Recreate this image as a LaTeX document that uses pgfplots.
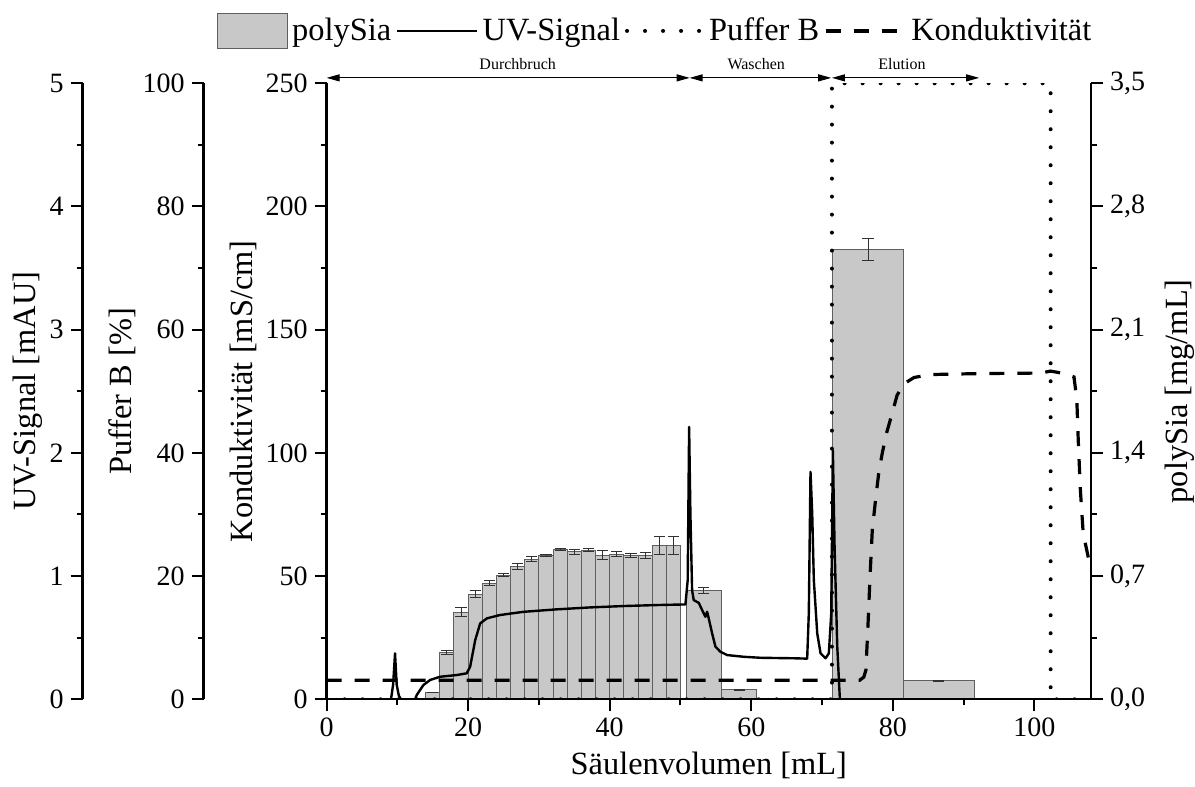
\documentclass[border=0pt]{standalone}
\usepackage{pgfplots}
\pgfplotsset{compat=1.18}
\usepackage{fontspec}
\setmainfont{Liberation Serif}
\usetikzlibrary{arrows.meta}

\definecolor{barfill}{RGB}{200,200,200}
\definecolor{baredge}{RGB}{95,95,95}
\definecolor{errc}{RGB}{50,50,50}

\newcommand{\ticksize}{\fontsize{14}{16}\selectfont}
\newcommand{\labsize}{\fontsize{16.2}{18}\selectfont}
\newcommand{\annsize}{\fontsize{8}{9}\selectfont}

\pgfplotsset{
  base/.style={
    anchor=south west,
    scale only axis, width=382.2pt, height=308pt,
    xmin=0, xmax=108,
    tick align=outside,
    major tick length=6pt, minor tick length=3pt,
    every tick/.style={black, line width=1pt},
    axis line style={line width=1.1pt},
    tick label style={font=\ticksize},
    /pgf/number format/assume math mode=true,
    every axis y label/.style={rotate=90, anchor=center, font=\labsize},
    every axis x label/.style={anchor=center, font=\labsize},
  },
  patchlegend/.style={legend image code/.code={\draw[##1] (0pt,-8.75pt) rectangle (35pt,8.75pt);}},
  linelegend/.style={legend image code/.code={\draw[##1] (0pt,0pt) -- (40pt,0pt);}},
  dotlegend/.style={legend image code/.code={\draw[##1] (2pt,0pt) -- (40pt,0pt);}},
  barerr/.style={error bars/.cd, y dir=both, y explicit,
    error bar style={errc, line width=0.5pt},
    error mark options={errc, line width=0.5pt, mark size=2.8pt, rotate=90}},
}

\begin{document}
\begin{tikzpicture}
\useasboundingbox (-163.3pt,-43.85pt) rectangle (434.2pt,349.65pt);

% ---------- polySia (right axis, bars) ----------
\begin{axis}[base, at={(0pt,0pt)},
  ymin=0, ymax=3.5, hide x axis, axis y line*=right,
  ytick={0,0.7,1.4,2.1,2.8,3.5}, minor y tick num=1,
  yticklabel style={/pgf/number format/.cd, fixed, fixed zerofill, precision=1, use comma},
  ylabel={polySia [mg/mL]},
  ylabel style={at={(axis description cs:1.1164,0.5)}},
]
\addplot[ybar, bar shift=0pt, bar width=2, fill=barfill, draw=baredge, line width=0.5pt, barerr]
coordinates {
(15,0.041) +- (0,0.0)
(17,0.267) +- (0,0.011)
(19,0.494) +- (0,0.025)
(21,0.598) +- (0,0.021)
(23,0.660) +- (0,0.015)
(25,0.706) +- (0,0.011)
(27,0.753) +- (0,0.017)
(29,0.795) +- (0,0.014)
(31,0.818) +- (0,0.005)
(33,0.850) +- (0,0.005)
(35,0.838) +- (0,0.013)
(37,0.848) +- (0,0.009)
(39,0.819) +- (0,0.025)
(41,0.825) +- (0,0.014)
(43,0.816) +- (0,0.013)
(45,0.819) +- (0,0.017)
(47,0.874) +- (0,0.052)
(49,0.874) +- (0,0.052)
};
\addplot[ybar, bar shift=0pt, bar width=5, fill=barfill, draw=baredge, line width=0.5pt, barerr]
coordinates {
(53.3,0.617) +- (0,0.017)
(58.3,0.053) +- (0,0.003)
};
\addplot[ybar, bar shift=0pt, bar width=10, fill=barfill, draw=baredge, line width=0.5pt, barerr]
coordinates {
(76.5,2.555) +- (0,0.064)
(86.5,0.106) +- (0,0.003)
};
\end{axis}

% ---------- Puffer B data ----------
\begin{axis}[base, at={(0pt,0pt)}, hide axis, ymin=0, ymax=100]
\addplot[black, line width=2pt, line cap=round, dash pattern=on 0pt off 9pt]
coordinates {(0,0) (71.4,0) (71.4,100) (102.3,100) (102.3,0) (108,0)};
\end{axis}
% ---------- Puffer B axis ----------
\begin{axis}[base, at={(-61.5pt,0pt)}, hide x axis, axis y line*=left,
  ymin=0, ymax=100, ytick={0,20,...,100}, minor y tick num=1,
  ylabel={Puffer B [\%]},
  ylabel style={at={(axis description cs:-0.106,0.5)}},
]
\addplot[draw=none] coordinates {(0,0)};
\end{axis}

% ---------- UV data ----------
\begin{axis}[base, at={(0pt,0pt)}, hide axis, ymin=0, ymax=5]
\addplot[black, line width=1.2pt, line join=round]
coordinates {
(0,0) (9.1,0) (9.4,0.12) (9.67,0.373) (9.9,0.12) (10.2,0.03) (10.5,0.0) (12.5,0)
(12.74,0.035) (13.68,0.116) (14.63,0.157) (16.04,0.183) (18.4,0.197) (19.8,0.211)
(20.28,0.264) (21.0,0.481) (21.7,0.616) (22.65,0.657) (24.5,0.684) (27.8,0.71)
(32.5,0.73) (37.3,0.746) (42.0,0.757) (46.7,0.765) (50.7,0.77) (51.02,0.968)
(51.22,2.21) (51.4,1.51) (51.64,0.886) (51.87,0.805) (52.58,0.783) (53.06,0.724)
(53.52,0.67) (53.76,0.71) (53.99,0.657) (54.47,0.535) (54.94,0.427) (55.64,0.386)
(56.59,0.359) (58.94,0.345) (61.3,0.337) (66.0,0.333) (67.9,0.33) (68.13,0.697)
(68.37,1.846) (68.61,1.508) (68.84,0.968) (69.32,0.535) (69.79,0.373) (70.5,0.333)
(70.96,0.373) (71.3,0.697) (71.53,2.02) (71.77,1.24) (72.15,0.427) (72.52,0) (108,0)
};
\end{axis}
% ---------- UV axis ----------
\begin{axis}[base, at={(-122pt,0pt)}, hide x axis, axis y line*=left,
  ymin=0, ymax=5, ytick={0,1,...,5}, minor y tick num=1,
  ylabel={UV-Signal [mAU]},
  ylabel style={at={(axis description cs:-0.072,0.5)}},
]
\addplot[draw=none] coordinates {(0,0)};
\end{axis}

% ---------- Konduktivitaet (main) ----------
\begin{axis}[base, at={(0pt,0pt)}, clip mode=individual,
  ymin=0, ymax=250, axis x line*=bottom, axis y line*=left,
  xtick={0,20,...,100}, minor x tick num=1,
  ytick={0,50,...,250}, minor y tick num=1,
  xlabel={Säulenvolumen [mL]}, ylabel={Konduktivität [mS/cm]},
  xlabel style={at={(axis description cs:0.5,-0.1067)}},
  ylabel style={at={(axis description cs:-0.1094,0.5)}},
  legend style={at={(0.43,1.085)}, anchor=center, draw=none, fill=none,
    font=\labsize, nodes={inner sep=1pt},
    /tikz/every odd column/.append style={column sep=1pt},
    /tikz/every even column/.append style={column sep=1.5pt}},
  legend columns=-1,
]
\addlegendimage{fill=barfill, draw=baredge, line width=0.5pt, patchlegend}
\addlegendentry{polySia}
\addlegendimage{black, line width=1.2pt, linelegend}
\addlegendentry{UV-Signal}
\addlegendimage{black, line width=2pt, line cap=round, dash pattern=on 0pt off 9pt, dotlegend}
\addlegendentry{Puffer B}
\addplot[black, line width=1.6pt, dash pattern=on 7.5pt off 6.5pt, linelegend]
coordinates {
(0,7.7) (75.3,7.7) (75.9,9) (76.2,11.9) (76.5,30.8) (76.8,51) (77.1,68.7) (77.6,82)
(78.0,91.6) (78.5,99.8) (79.1,107.9) (79.9,116) (80.6,123.4) (81.6,128.1) (83,130.6)
(85.3,131.8) (92.4,132.2) (100.9,132.4) (102.3,133.2) (104.2,132.2) (105.6,130.8)
(106.0,121.4) (106.2,105) (106.5,84.9) (106.9,67.3) (107.7,56.5) (108,54.5)
};
\addlegendentry{Konduktivität}

\draw[{Triangle[length=6.5pt,width=3.5pt]}-{Triangle[length=6.5pt,width=3.5pt]}, line width=0.5pt]
  (axis cs:0,252.2) -- (axis cs:51.3,252.2);
\draw[{Triangle[length=6.5pt,width=3.5pt]}-{Triangle[length=6.5pt,width=3.5pt]}, line width=0.5pt]
  (axis cs:51.3,252.2) -- (axis cs:71.3,252.2);
\draw[{Triangle[length=6.5pt,width=3.5pt]}-{Triangle[length=6.5pt,width=3.5pt]}, line width=0.5pt]
  (axis cs:71.4,252.2) -- (axis cs:92.2,252.2);
\node[font=\annsize, anchor=base] at (axis cs:27,255.4) {Durchbruch};
\node[font=\annsize, anchor=base] at (axis cs:60.7,255.4) {Waschen};
\node[font=\annsize, anchor=base] at (axis cs:81.3,255.4) {Elution};
\end{axis}
\end{tikzpicture}
\end{document}
